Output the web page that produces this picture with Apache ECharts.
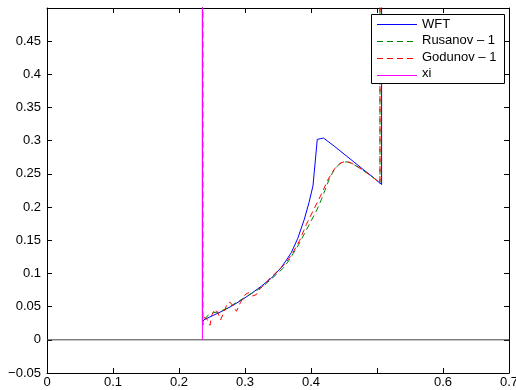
<!DOCTYPE html>
<html><head><meta charset="utf-8">
<script src="https://cdn.jsdelivr.net/npm/echarts@6/dist/echarts.min.js"></script>
<style>html,body{margin:0;padding:0;background:#fff}#c{width:516px;height:390px}</style>
</head><body><div id="c"></div>
<script>
const seriesNames = ['WFT', 'Rusanov \u2013 1', 'Godunov \u2013 1', 'xi'];
const seriesColors = ['#0000ff', '#008000', '#ff0000', '#ff00ff'];
const xRange = [0, 0.7, 0.1];
const yRange = [-0.05, 0.5, 0.05];

const wft = [[0.2355, 0.6], [0.2355, 0.026], [0.2375, 0.030], [0.25, 0.036], [0.265, 0.043], [0.28, 0.051],
  [0.295, 0.060], [0.31, 0.070], [0.325, 0.081], [0.34, 0.093], [0.355, 0.109], [0.37, 0.131], [0.38, 0.153],
  [0.39, 0.182], [0.397, 0.207], [0.403, 0.232], [0.4095, 0.302], [0.414, 0.303], [0.419, 0.304], [0.435, 0.292],
  [0.45, 0.280], [0.465, 0.268], [0.48, 0.256], [0.494, 0.245], [0.507, 0.234], [0.507, 0.6]];

const rusanov = [[0.236, 0.6], [0.236, 0.022], [0.238, 0.030], [0.245, 0.038], [0.252, 0.041], [0.26, 0.042],
  [0.27, 0.046], [0.28, 0.052], [0.29, 0.058], [0.30, 0.064], [0.31, 0.070], [0.32, 0.076], [0.33, 0.083],
  [0.338, 0.090], [0.348, 0.099], [0.358, 0.108], [0.366, 0.119], [0.373, 0.130], [0.381, 0.143], [0.388, 0.156],
  [0.398, 0.175], [0.409, 0.196], [0.416, 0.212], [0.421, 0.225], [0.428, 0.243], [0.435, 0.256], [0.442, 0.264],
  [0.449, 0.268], [0.456, 0.268], [0.465, 0.264], [0.475, 0.258], [0.484, 0.252], [0.495, 0.244], [0.5045, 0.236],
  [0.5045, 0.6]];

const godunov = [[0.236, 0.6], [0.236, 0.03], [0.239, 0.034], [0.243, 0.030], [0.247, 0.022], [0.250, 0.038],
  [0.2545, 0.046], [0.259, 0.041], [0.263, 0.030], [0.268, 0.042], [0.273, 0.054], [0.277, 0.057], [0.282, 0.051],
  [0.287, 0.043], [0.293, 0.056], [0.300, 0.068], [0.305, 0.071], [0.311, 0.066], [0.317, 0.068], [0.323, 0.077],
  [0.330, 0.084], [0.338, 0.093], [0.350, 0.104], [0.362, 0.116], [0.373, 0.132], [0.383, 0.150], [0.393, 0.174],
  [0.405, 0.198], [0.416, 0.220], [0.426, 0.242], [0.436, 0.258], [0.444, 0.266], [0.452, 0.269], [0.46, 0.267],
  [0.472, 0.260], [0.484, 0.252], [0.495, 0.244], [0.5045, 0.236], [0.5045, 0.6]];

const xi = [[0.2355, 0], [0.2355, 0.6]];
const zeroLine = [[0, 0], [0.7, 0]];

const font = 'Liberation Sans, Arial, Helvetica, sans-serif';
function fmt(v) {
  const r = +v.toFixed(3);
  if (Math.abs(r - 0.5) < 1e-9) return '';
  const s = String(Math.abs(r));
  return r < 0 ? '\u2212' + s : s;
}
const axisBase = {
  type: 'value', scale: false,
  axisLine: { show: true, onZero: false, lineStyle: { color: '#000', width: 1 } },
  axisTick: { show: true, inside: true, length: 5, lineStyle: { color: '#000' } },
  splitLine: { show: false }
};
const dashed = [false, true, true, false];
const legendLeft = 377, legendTop = 17, legendItemH = 14, legendGap = 3, legendIconW = 40;
const legendSamples = seriesNames.map((n, i) => {
  const y = legendTop + legendItemH / 2 + i * (legendItemH + legendGap) + 0.5;
  return {
    type: 'line', zlevel: 1, z: 100, id: 'sample' + i,
    shape: { x1: legendLeft, y1: y, x2: legendLeft + legendIconW, y2: y },
    style: { stroke: seriesColors[i], lineWidth: 1, lineDash: dashed[i] ? [6, 4] : null, opacity: 1 }
  };
});
const chart = echarts.init(document.getElementById('c'), null, { renderer: 'canvas' });
const dataSeries = [wft, rusanov, godunov, xi];
chart.setOption({
  animation: false,
  backgroundColor: '#fff',
  grid: { left: 47, right: 7, top: 8, bottom: 17, containLabel: false, outerBoundsMode: 'none' },
  xAxis: [
    Object.assign({}, axisBase, { min: xRange[0], max: xRange[1], interval: xRange[2], position: 'bottom',
      axisLabel: { color: '#000', fontSize: 13, fontFamily: font, margin: 3, formatter: fmt, showMaxLabel: true } }),
    Object.assign({}, axisBase, { min: xRange[0], max: xRange[1], interval: xRange[2], position: 'top',
      axisLabel: { show: false } })
  ],
  yAxis: [
    Object.assign({}, axisBase, { min: yRange[0], max: yRange[1], interval: yRange[2], position: 'left',
      axisLabel: { color: '#000', fontSize: 13, fontFamily: font, margin: 6, formatter: fmt } }),
    Object.assign({}, axisBase, { min: yRange[0], max: yRange[1], interval: yRange[2], position: 'right',
      axisLabel: { show: false } })
  ],
  graphic: [{
    type: 'rect', z: 50, left: 371, top: 14, id: 'legendBox',
    shape: { width: 133, height: 69 },
    style: { fill: '#fff', stroke: '#000', lineWidth: 1 }
  }].concat(legendSamples),
  legend: {
    z: 60,
    left: legendLeft, top: legendTop, orient: 'vertical', padding: 0, itemGap: legendGap, itemTextGap: 5,
    itemWidth: legendIconW, itemHeight: legendItemH,
    icon: 'none',
    itemStyle: { opacity: 0 },
    lineStyle: { color: '#ffffff', opacity: 0, width: 1 },
    textStyle: { fontSize: 13, fontFamily: font, color: '#000' },
    data: seriesNames
  },
  series: [{
    name: 'zero', type: 'line', data: zeroLine, symbol: 'none', silent: true,
    lineStyle: { color: '#444', width: 1 }, z: 1
  }].concat(dataSeries.map((d, i) => ({
    name: seriesNames[i], type: 'line', data: d, symbol: 'none', clip: true,
    itemStyle: { color: seriesColors[i] },
    lineStyle: { color: seriesColors[i], width: 1, type: dashed[i] ? [6, 4] : 'solid' },
    z: 2 + i
  })))
});
</script></body></html>
